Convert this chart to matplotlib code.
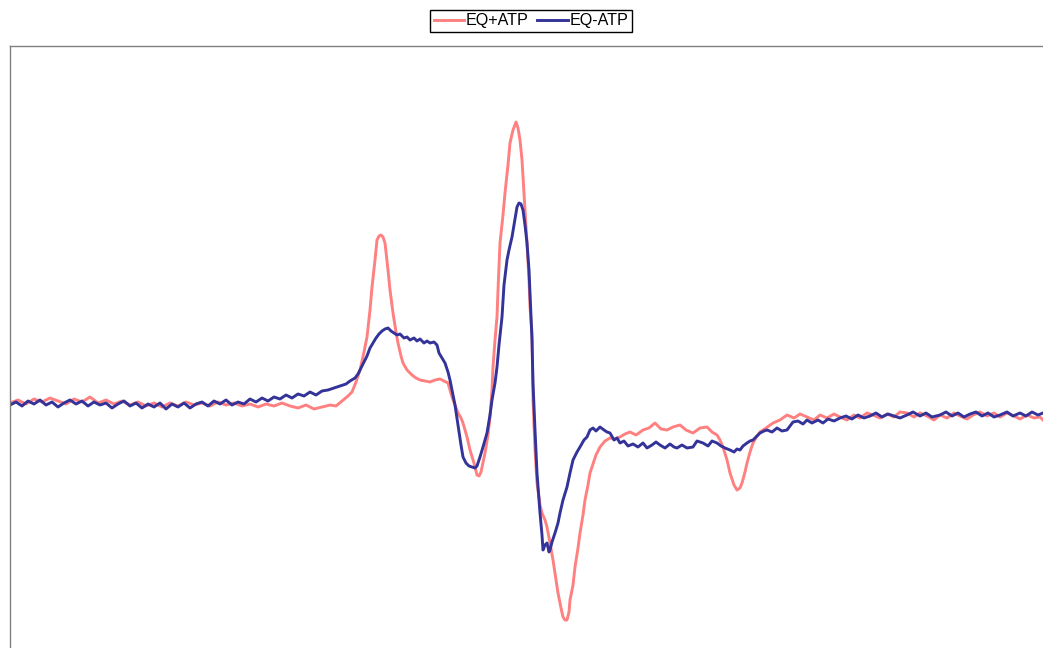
import matplotlib.pyplot as plt

# EPR spectra, point index vs. signal intensity (arbitrary units)
atp_x = [0, 8, 16, 24, 32, 40, 48, 56, 64, 72, 80, 88, 96, 104, 112, 120, 128, 136, 144, 152,
         160, 168, 176, 184, 192, 200, 208, 216, 224, 232, 240, 248, 256, 264, 272, 280, 288, 296,
         304, 312, 320, 326, 332, 338, 342, 346, 350, 354, 357, 360, 362, 365, 367, 369, 371, 373,
         375, 378, 380, 383, 386, 388, 391, 393, 397, 402, 406, 410, 415, 420, 425, 430, 434, 438,
         442, 445, 448, 451, 453, 457, 460, 464, 467, 469, 471, 475, 478, 480, 482, 483, 485, 487,
         488, 490, 493, 495, 498, 500, 503, 506, 508, 510, 512, 513, 515, 517, 519, 520, 522, 523,
         525, 527, 530, 532, 535, 537, 540, 543, 546, 548, 551, 553, 555, 557, 559, 560, 563, 565,
         568, 570, 573, 575, 578, 580, 582, 586, 590, 595, 600, 605, 610, 615, 620, 626, 633, 639,
         645, 651, 657, 663, 670, 676, 683, 690, 697, 702, 707, 710, 713, 717, 720, 724, 727, 730,
         732, 735, 737, 740, 743, 747, 750, 756, 763, 770, 777, 784, 790, 797, 804, 810, 817, 824,
         830, 837, 844, 850, 857, 863, 870, 877, 884, 890, 897, 904, 910, 917, 924, 930, 937, 944,
         950, 957, 963, 970, 977, 984, 990, 997, 1004, 1010, 1017, 1024, 1030, 1033]
atp_y = [2, 5, 1, 6, 3, 7, 4, 1, 6, 3, 8, 2, 5, 1, 4, 0, 3, -1, 2, -2,
         2, -1, 3, 0, 2, -1, 3, 0, 2, -1, 1, -2, 1, -1, 2, -1, -3, 0,
         -4, -2, 0, -1, 4, 9, 13, 23, 35, 53, 68, 95, 118, 145, 165, 169, 170, 168,
         162, 135, 115, 92, 73, 62, 49, 42, 35, 30, 27, 25, 24, 23, 25, 26, 24, 22,
         8, 0, -8, -13, -18, -32, -45, -58, -70, -71, -67, -48, -30, -12, 15, 38, 65, 88,
         115, 162, 190, 212, 240, 262, 275, 283, 277, 265, 245, 228, 195, 162, 125, 98, 72, 5,
         -45, -78, -100, -108, -115, -122, -138, -155, -175, -188, -203, -212, -215, -215, -207, -195, -180, -162,
         -143, -128, -110, -95, -80, -68, -62, -50, -42, -36, -33, -34, -32, -29, -27, -30, -25, -23,
         -18, -24, -25, -22, -20, -25, -28, -23, -22, -27, -30, -35, -42, -55, -68, -80, -85, -83,
         -78, -67, -58, -47, -38, -31, -27, -23, -18, -15, -10, -13, -9, -12, -15, -10, -13, -9,
         -12, -15, -10, -13, -8, -10, -13, -9, -12, -7, -8, -12, -8, -11, -15, -10, -13, -8,
         -11, -14, -10, -7, -11, -8, -12, -8, -11, -14, -10, -13, -12, -15]

noatp_x = [0, 6, 12, 18, 24, 30, 36, 42, 48, 54, 60, 66, 72, 78, 84, 90, 96, 102, 108, 114,
           120, 126, 132, 138, 144, 150, 156, 162, 168, 174, 180, 186, 192, 198, 204, 210, 216, 222,
           228, 234, 240, 246, 252, 258, 264, 270, 276, 282, 288, 294, 300, 306, 312, 318, 324, 330,
           336, 340, 345, 348, 351, 354, 357, 360, 363, 366, 369, 372, 375, 378, 381, 384, 387, 390,
           394, 397, 400, 404, 407, 410, 414, 417, 420, 424, 427, 429, 432, 435, 438, 440, 442, 445,
           448, 451, 453, 456, 459, 462, 465, 467, 470, 473, 477, 480, 482, 485, 487, 489, 492, 494,
           497, 499, 502, 504, 507, 509, 511, 513, 515, 517, 519, 520, 522, 523, 525, 527, 529, 530,
           532, 533, 535, 537, 539, 540, 542, 545, 548, 550, 553, 557, 560, 563, 567, 570, 574, 577,
           580, 583, 586, 590, 594, 597, 600, 604, 607, 610, 614, 618, 623, 628, 633, 637, 642, 646,
           650, 655, 660, 664, 667, 672, 677, 683, 687, 693, 698, 702, 707, 711, 715, 720, 724, 727,
           730, 733, 737, 740, 743, 747, 750, 754, 757, 762, 767, 772, 777, 780, 783, 788, 793, 797,
           802, 808, 813, 818, 824, 830, 836, 842, 848, 854, 860, 866, 872, 878, 884, 890, 897, 903,
           910, 916, 922, 930, 936, 942, 948, 954, 960, 966, 972, 978, 984, 990, 997, 1003, 1010, 1016,
           1022, 1028, 1033]
noatp_y = [0, 3, -1, 4, 1, 5, 0, 3, -2, 2, 5, 1, 4, -1, 3, 0, 2, -3, 1, 4,
           -1, 2, -3, 1, -2, 2, -4, 1, -2, 2, -3, 1, 3, -1, 4, 1, 5, 0,
           3, 1, 6, 3, 7, 4, 8, 6, 10, 7, 11, 9, 13, 10, 14, 15, 17, 19,
           21, 24, 27, 31, 37, 43, 49, 57, 62, 67, 71, 74, 76, 77, 74, 72, 70, 71,
           67, 68, 65, 67, 64, 66, 62, 64, 62, 63, 60, 52, 47, 42, 33, 25, 15, 0,
           -20, -40, -52, -58, -61, -62, -63, -61, -52, -42, -28, -10, 5, 22, 38, 60, 88, 120,
           145, 155, 168, 180, 198, 202, 201, 195, 180, 162, 135, 112, 65, 22, -25, -68, -95, -108,
           -130, -145, -140, -138, -147, -145, -137, -128, -118, -108, -95, -82, -68, -55, -47, -42, -35, -32,
           -25, -23, -26, -22, -25, -27, -28, -35, -33, -38, -36, -41, -39, -42, -38, -43, -40, -37,
           -40, -43, -39, -42, -43, -40, -43, -42, -36, -38, -41, -36, -38, -41, -43, -45, -47, -44,
           -45, -41, -38, -36, -35, -31, -28, -26, -25, -27, -23, -26, -25, -21, -17, -16, -19, -15,
           -18, -15, -18, -14, -16, -13, -11, -14, -10, -13, -11, -8, -12, -9, -11, -13, -10, -7,
           -11, -8, -12, -10, -7, -11, -8, -12, -9, -7, -11, -8, -12, -10, -7, -11, -8, -11,
           -7, -10, -8]

labels = ["EQ+ATP", "EQ-ATP"]
colors = ["#FF8080", "#333399"]


def main():
    plt.rcParams["font.family"] = ["Liberation Sans", "DejaVu Sans"]
    fig = plt.figure(figsize=(10.43, 6.48), dpi=100)
    ax = fig.add_axes([10 / 1043, 0.0, 1 - 10 / 1043, 602 / 648])

    ax.plot(atp_x, atp_y, color=colors[0], lw=2.1, label=labels[0])
    ax.plot(noatp_x, noatp_y, color=colors[1], lw=2.1, label=labels[1])

    ax.set_xlim(0, 1033)
    ax.set_ylim(-243, 359)
    ax.set_xticks([])
    ax.set_yticks([])
    for side in ["right", "bottom"]:
        ax.spines[side].set_visible(False)
    for side in ["left", "top"]:
        ax.spines[side].set_color("#808080")
        ax.spines[side].set_linewidth(1.0)

    leg = fig.legend(loc="center", bbox_to_anchor=(531 / 1043, 1 - 21 / 648), ncol=2,
                     fancybox=False, edgecolor="black", fontsize=11.6, handlelength=1.9,
                     handletextpad=0.12, columnspacing=0.5, borderpad=0.2, borderaxespad=0,
                     framealpha=1)
    leg.get_frame().set_linewidth(1.0)

    fig.savefig("out.png", dpi=100)


if __name__ == "__main__":
    main()
